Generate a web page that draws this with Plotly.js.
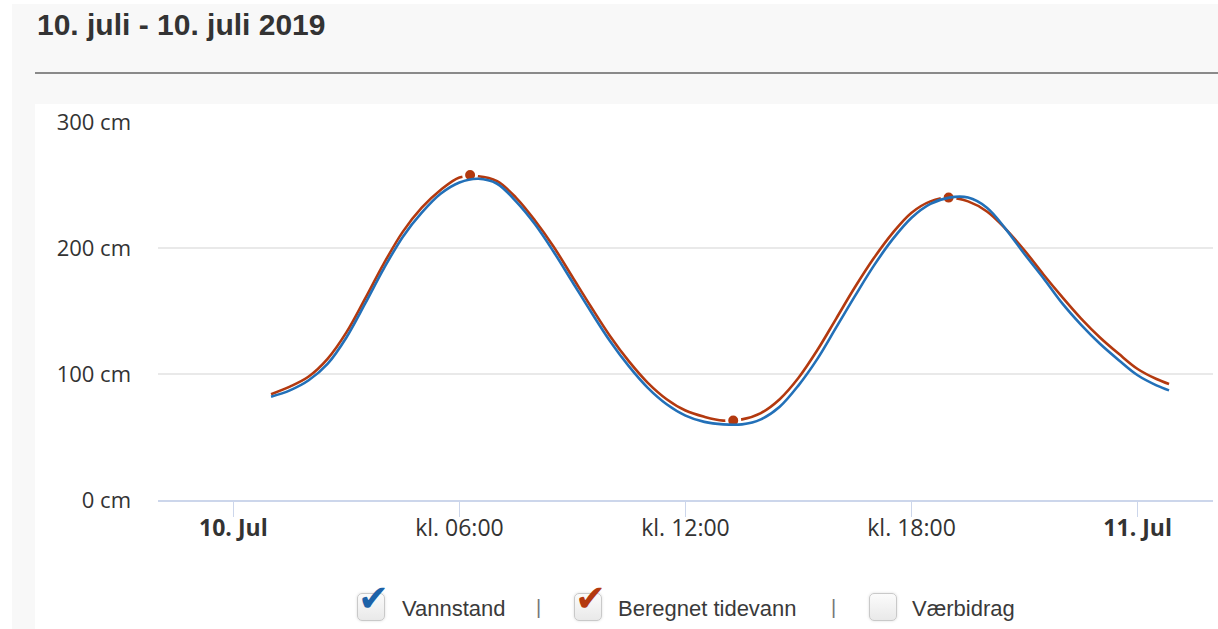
<!DOCTYPE html>
<html>
<head>
<meta charset="utf-8">
<script src="https://cdn.plot.ly/plotly-3.0.1.min.js"></script>
<style>
  html, body { margin:0; padding:0; width:1218px; height:629px; overflow:hidden; background:#ffffff; }
  #bgpanel { position:absolute; left:12px; top:4px; right:0; bottom:0; background:#f8f8f8; }
  #title { position:absolute; left:37px; top:10px; font-family:"Liberation Sans", Arial, sans-serif; font-weight:bold; font-size:30px; line-height:30px; color:#333333; white-space:nowrap; }
  #rule { position:absolute; left:35px; top:72px; right:0; height:2px; background:#8a8a8a; }
  #panel { position:absolute; left:35px; top:104px; right:0; bottom:0; background:#ffffff; }
  #chart { position:absolute; left:0; top:0; width:1218px; height:629px; }
  .lg { position:absolute; font-family:"Liberation Sans", Arial, sans-serif; font-size:22px; line-height:22px; color:#3a3a3a; white-space:nowrap; }
  .sep { position:absolute; font-family:"Liberation Sans", Arial, sans-serif; font-size:20px; line-height:20px; color:#777; }
  .box { position:absolute; width:26px; height:26px; border:1px solid #c9c9c9; border-radius:5px; background:linear-gradient(#fbfbfb,#e9e9e9); box-shadow:0 0 3px #dddddd; }
  .chk { position:absolute; font-family:"DejaVu Sans", sans-serif; font-size:37px; line-height:37px; }
</style>
</head>
<body>
<div id="bgpanel"></div>
<div id="title">10. juli - 10. juli 2019</div>
<div id="rule"></div>
<div id="panel"></div>
<div id="chart"></div>
<div id="legend"></div>
<script>
// ---- data (half-hourly) ----
const times = [
  "2019-07-10 01:00","2019-07-10 01:30","2019-07-10 02:00","2019-07-10 02:30","2019-07-10 03:00","2019-07-10 03:30",
  "2019-07-10 04:00","2019-07-10 04:30","2019-07-10 05:00","2019-07-10 05:30","2019-07-10 06:00","2019-07-10 06:30",
  "2019-07-10 07:00","2019-07-10 07:30","2019-07-10 08:00","2019-07-10 08:30","2019-07-10 09:00","2019-07-10 09:30",
  "2019-07-10 10:00","2019-07-10 10:30","2019-07-10 11:00","2019-07-10 11:30","2019-07-10 12:00","2019-07-10 12:30",
  "2019-07-10 13:00","2019-07-10 13:30","2019-07-10 14:00","2019-07-10 14:30","2019-07-10 15:00","2019-07-10 15:30",
  "2019-07-10 16:00","2019-07-10 16:30","2019-07-10 17:00","2019-07-10 17:30","2019-07-10 18:00","2019-07-10 18:30",
  "2019-07-10 19:00","2019-07-10 19:30","2019-07-10 20:00","2019-07-10 20:30","2019-07-10 21:00","2019-07-10 21:30",
  "2019-07-10 22:00","2019-07-10 22:30","2019-07-10 23:00","2019-07-10 23:30","2019-07-11 00:00","2019-07-11 00:30",
  "2019-07-11 00:50"];
// Beregnet tidevann (cm)
const tideValues = [
  84, 90, 98, 112, 133, 160,
  188, 213, 232, 246, 256, 257,
  253, 240, 222, 201, 177, 153,
  130, 110, 93, 80, 71, 66,
  63, 64, 69, 80, 97, 119,
  144, 169, 192, 212, 228, 237,
  240, 237, 229, 215, 198, 179,
  161, 144, 129, 116, 104, 96,
  92];
// Vannstand (cm)
const levelValues = [
  82, 87, 95, 108, 129, 156,
  184, 209, 228, 243, 252, 255,
  251, 237, 219, 197, 173, 149,
  126, 106, 89, 76, 67, 62,
  60, 60, 64, 74, 91, 112,
  137, 162, 186, 207, 224, 235,
  240, 240, 232, 215, 195, 176,
  156, 139, 124, 111, 99, 91,
  87];

// high / low water of the computed tide
const extremeTimes  = ["2019-07-10 06:17","2019-07-10 13:16","2019-07-10 18:59"];
const extremeValues = [258,63,240];

const xTickVals = ["2019-07-10 00:00","2019-07-10 06:00","2019-07-10 12:00","2019-07-10 18:00","2019-07-11 00:00"];
const xTickText = ["<b>10. Jul</b>","kl. 06:00","kl. 12:00","kl. 18:00","<b>11. Jul</b>"];
const yTickVals = [0,100,200,300];
const yTickText = ["0 cm","100 cm","200 cm","300 cm"];

const legendItems = ["Vannstand","Beregnet tidevann","Værbidrag"];
const legendChecked = [true,true,false];

const BLUE = "#2270b8", RED = "#b3390f";

const traces = [
  { x: times, y: tideValues, type:"scatter", mode:"lines", name:"Beregnet tidevann",
    line:{color:RED, width:2.6, shape:"spline", smoothing:1}, hoverinfo:"skip" },
  { x: extremeTimes, y: extremeValues, type:"scatter", mode:"markers", name:"ekstrem",
    marker:{color:RED, size:13, line:{color:"#ffffff", width:3}}, hoverinfo:"skip" },
  { x: times, y: levelValues, type:"scatter", mode:"lines", name:"Vannstand",
    line:{color:BLUE, width:2.6, shape:"spline", smoothing:1}, hoverinfo:"skip" }
];

const layout = {
  width:1218, height:629,
  margin:{l:158, r:5, t:122, b:129, pad:0},
  paper_bgcolor:"rgba(0,0,0,0)", plot_bgcolor:"rgba(0,0,0,0)",
  showlegend:false,
  xaxis:{ type:"date", range:["2019-07-09 22:00","2019-07-11 02:00"],
    tickvals:xTickVals, ticktext:xTickText, showgrid:false, zeroline:false,
    showline:true, linecolor:"#ccd6eb", linewidth:2,
    ticks:"outside", ticklen:15, tickwidth:1.5, tickcolor:"#ccd6eb",
    ticklabelstandoff:-9,
    tickfont:{family:"Open Sans, Noto Sans, sans-serif", size:23, color:"#333333"} },
  yaxis:{ range:[0,300], tickvals:yTickVals, ticktext:yTickText,
    showgrid:true, gridcolor:"#e9e9e9", gridwidth:2, zeroline:false, showline:false,
    ticks:"", ticklabelstandoff:26,
    tickfont:{family:"Open Sans, Noto Sans, sans-serif", size:22, color:"#333333"} }
};

Plotly.newPlot("chart", traces, layout, {displayModeBar:false, staticPlot:true});

// ---- HTML legend with checkboxes ----
const legend = document.getElementById("legend");
const boxX = [357, 574, 869];
const textX = [402, 618, 912];
const sepX = [536, 831];
const checkColors = ["#1d62a8", "#b3390f", null];
legendItems.forEach((name, i) => {
  const b = document.createElement("div");
  b.className = "box"; b.style.left = boxX[i] + "px"; b.style.top = "593px";
  legend.appendChild(b);
  if (legendChecked[i]) {
    const c = document.createElement("div");
    c.className = "chk"; c.textContent = "\u2714";
    c.style.color = checkColors[i];
    c.style.left = (boxX[i] + 1) + "px"; c.style.top = "580px";
    legend.appendChild(c);
  }
  const t = document.createElement("div");
  t.className = "lg"; t.textContent = name;
  t.style.left = textX[i] + "px"; t.style.top = "598px";
  legend.appendChild(t);
});
sepX.forEach(x => {
  const s = document.createElement("div");
  s.className = "sep"; s.textContent = "|";
  s.style.left = x + "px"; s.style.top = "597px";
  legend.appendChild(s);
});
</script>
</body>
</html>
